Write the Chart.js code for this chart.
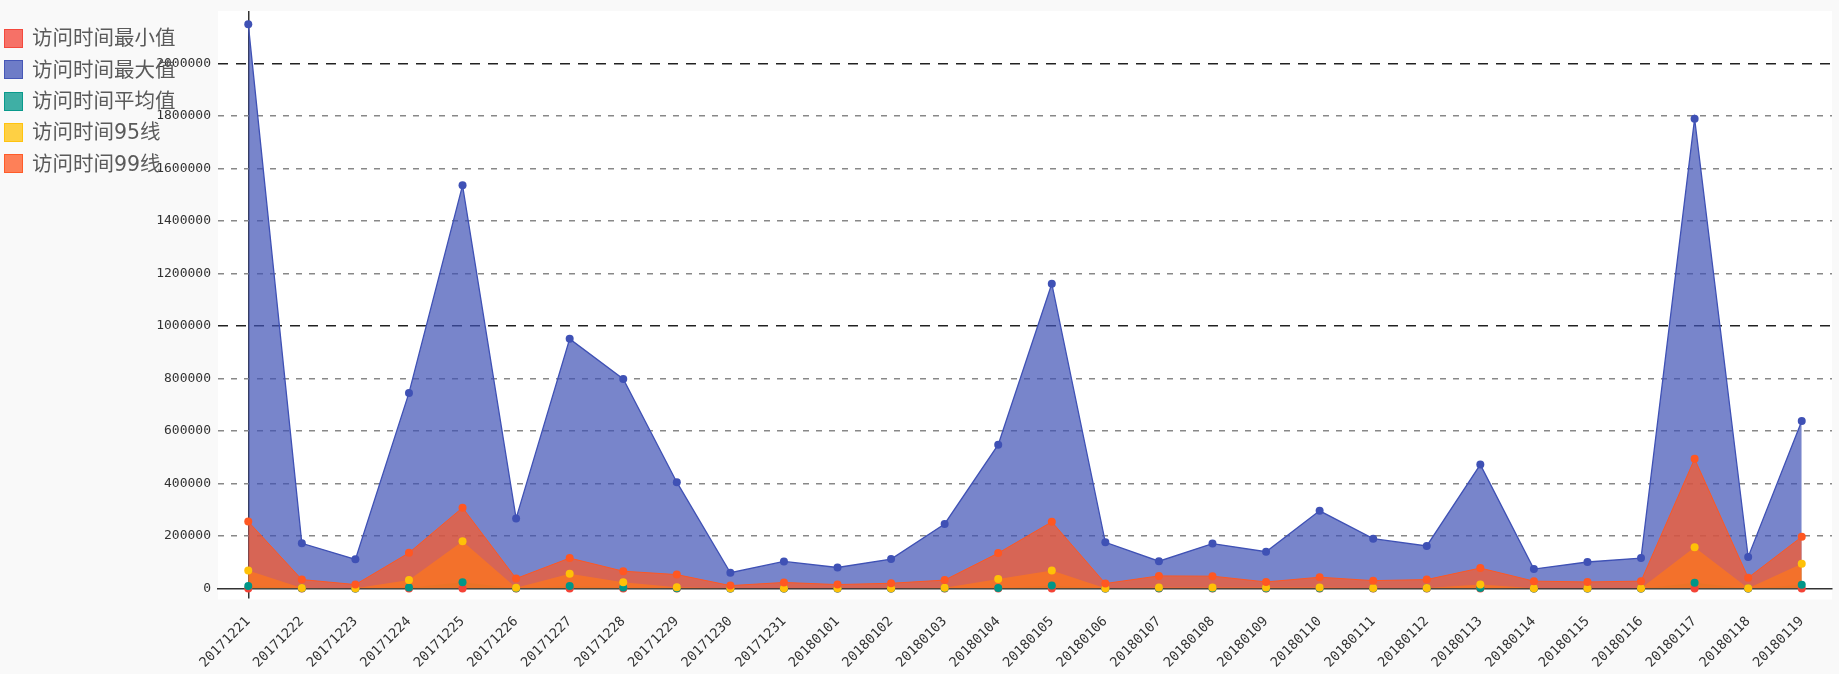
<!DOCTYPE html>
<html>
<head>
<meta charset="utf-8">
<script src="https://cdn.jsdelivr.net/npm/chart.js@4.4.1/dist/chart.umd.min.js"></script>
<style>
  html, body { margin: 0; padding: 0; background: #f9f9f9; }
  #wrap { position: relative; width: 1839px; height: 674px; }
  #c { position: absolute; left: 0; top: 0; }
  #legend { position: absolute; left: 4px; top: 23px; z-index: 2; }
  .item { display: flex; align-items: center; height: 31.3px; }
  .sw { width: 19px; height: 19px; box-sizing: border-box; margin-right: 9px; }
  .lt { font-family: "DejaVu Sans", "Noto Sans CJK SC", sans-serif; font-size: 20.5px; color: #5a5a5a; line-height: 1; }
</style>
</head>
<body>
<div id="wrap">
  <canvas id="c" width="1839" height="674"></canvas>
  <div id="legend"></div>
</div>
<script>
const dates = ['20171221','20171222','20171223','20171224','20171225','20171226','20171227','20171228','20171229','20171230','20171231','20180101','20180102','20180103','20180104','20180105','20180106','20180107','20180108','20180109','20180110','20180111','20180112','20180113','20180114','20180115','20180116','20180117','20180118','20180119'];

const seriesNames = ['访问时间最小值','访问时间最大值','访问时间平均值','访问时间95线','访问时间99线'];

const minVals = [0,0,0,0,0,0,0,0,0,0,0,0,0,0,0,0,0,0,0,0,0,0,0,0,0,0,0,0,0,0];
const maxVals = [2150000,172000,111000,745000,1536000,267000,951000,798000,405000,60000,103000,80000,112000,246000,548000,1161000,176000,104000,171000,140000,296000,190000,162000,472000,74000,101000,116000,1790000,120000,638000];
const avgVals = [10000,500,300,4000,24000,500,10000,4000,1000,300,300,200,300,500,2000,11000,300,1000,1000,1000,1000,500,500,2000,300,300,300,22000,300,14000];
const p95Vals = [69000,2000,1000,32000,180000,2500,56000,24000,5000,1000,1000,500,1000,2500,36000,69000,1000,4000,4000,4000,4000,2000,2000,15000,1000,1000,1000,157000,1000,94000];
const p99Vals = [255000,34000,15000,136000,308000,38000,116000,66000,53000,11000,23000,15000,20000,32000,135000,254000,19000,48000,47000,25000,43000,30000,34000,78000,28000,25000,28000,494000,41000,197000];

const yMax = 2200000;
const yStep = 200000;

const seriesValues = [minVals, maxVals, avgVals, p95Vals, p99Vals];
const seriesRGB = [[244,67,54],[63,81,181],[0,150,136],[255,193,7],[255,87,34]];
const seriesOrder = [4,3,2,1,0];
const seriesLine = [0, 1.3, 0, 0, 1];

function rgba(c, a) { return 'rgba(' + c[0] + ',' + c[1] + ',' + c[2] + ',' + a + ')'; }

// legend (HTML)
const legendEl = document.getElementById('legend');
seriesNames.forEach((n, i) => {
  const it = document.createElement('div'); it.className = 'item';
  const sw = document.createElement('div'); sw.className = 'sw';
  sw.style.background = rgba(seriesRGB[i], 0.75);
  sw.style.border = '1px solid ' + rgba(seriesRGB[i], 0.85);
  const t = document.createElement('span'); t.className = 'lt'; t.textContent = n;
  it.appendChild(sw); it.appendChild(t); legendEl.appendChild(it);
});

const panelPlugin = {
  id: 'panel',
  beforeDraw(chart) {
    const a = chart.chartArea, ctx = chart.ctx;
    ctx.save();
    ctx.fillStyle = '#ffffff';
    ctx.fillRect(a.left, a.top, a.right - a.left, a.bottom + 11 - a.top);
    ctx.restore();
  }
};

const datasets = seriesNames.map((n, i) => ({
  label: n,
  data: seriesValues[i].map((v, k) => ({ x: k, y: v })),
  order: seriesOrder[i],
  fill: 'origin',
  backgroundColor: rgba(seriesRGB[i], 0.7),
  borderColor: seriesLine[i] ? rgba(seriesRGB[i], 1) : 'rgba(0,0,0,0)',
  borderWidth: seriesLine[i],
  pointRadius: 4,
  pointBorderWidth: 0,
  pointBackgroundColor: rgba(seriesRGB[i], 1),
  tension: 0,
  clip: false
}));

const yFont = { family: 'DejaVu Sans Mono', size: 13 };
const xFont = { family: 'DejaVu Sans Mono', size: 13.5 };

new Chart(document.getElementById('c'), {
  type: 'line',
  data: { datasets },
  options: {
    responsive: false,
    animation: false,
    devicePixelRatio: 1,
    layout: { padding: { top: 11, right: 7, left: 0, bottom: 0 } },
    plugins: {
      legend: { display: false },
      tooltip: { enabled: false },
      filler: { drawTime: 'beforeDatasetsDraw' }
    },
    scales: {
      x: {
        type: 'linear',
        min: -0.565,
        max: dates.length - 1 + 0.565,
        afterFit(s) { s.height = 85.5; },
        ticks: {
          stepSize: 1, autoSkip: false, includeBounds: false,
          maxRotation: 45, minRotation: 45, padding: 15,
          font: xFont, color: '#333',
          callback: v => (Number.isInteger(v) && dates[v]) ? dates[v] : ''
        },
        grid: {
          color: c => (c.tick && c.tick.value === 0) ? '#333' : 'rgba(0,0,0,0)',
          lineWidth: 1.5, tickLength: 10, drawOnChartArea: true
        },
        border: { display: true, color: '#333', width: 1.5 }
      },
      y: {
        min: 0, max: yMax,
        afterFit(s) { s.width = 218; s.paddingTop = 0; s.paddingBottom = 0; },
        ticks: {
          stepSize: yStep, padding: 7, font: yFont, color: '#333',
          callback: v => v === yMax ? '' : String(v)
        },
        grid: {
          drawTicks: false,
          lineWidth: 1.4,
          color: c => {
            const v = c.tick ? c.tick.value : -1;
            if (v === 0 || v === yMax) return 'rgba(0,0,0,0)';
            return (v % 1000000 === 0) ? '#222' : '#888';
          }
        },
        border: {
          display: false,
          dash: c => (c.tick && c.tick.value % 1000000 === 0) ? [10, 8] : [6, 7]
        }
      }
    }
  },
  plugins: [panelPlugin]
});
</script>
</body>
</html>
